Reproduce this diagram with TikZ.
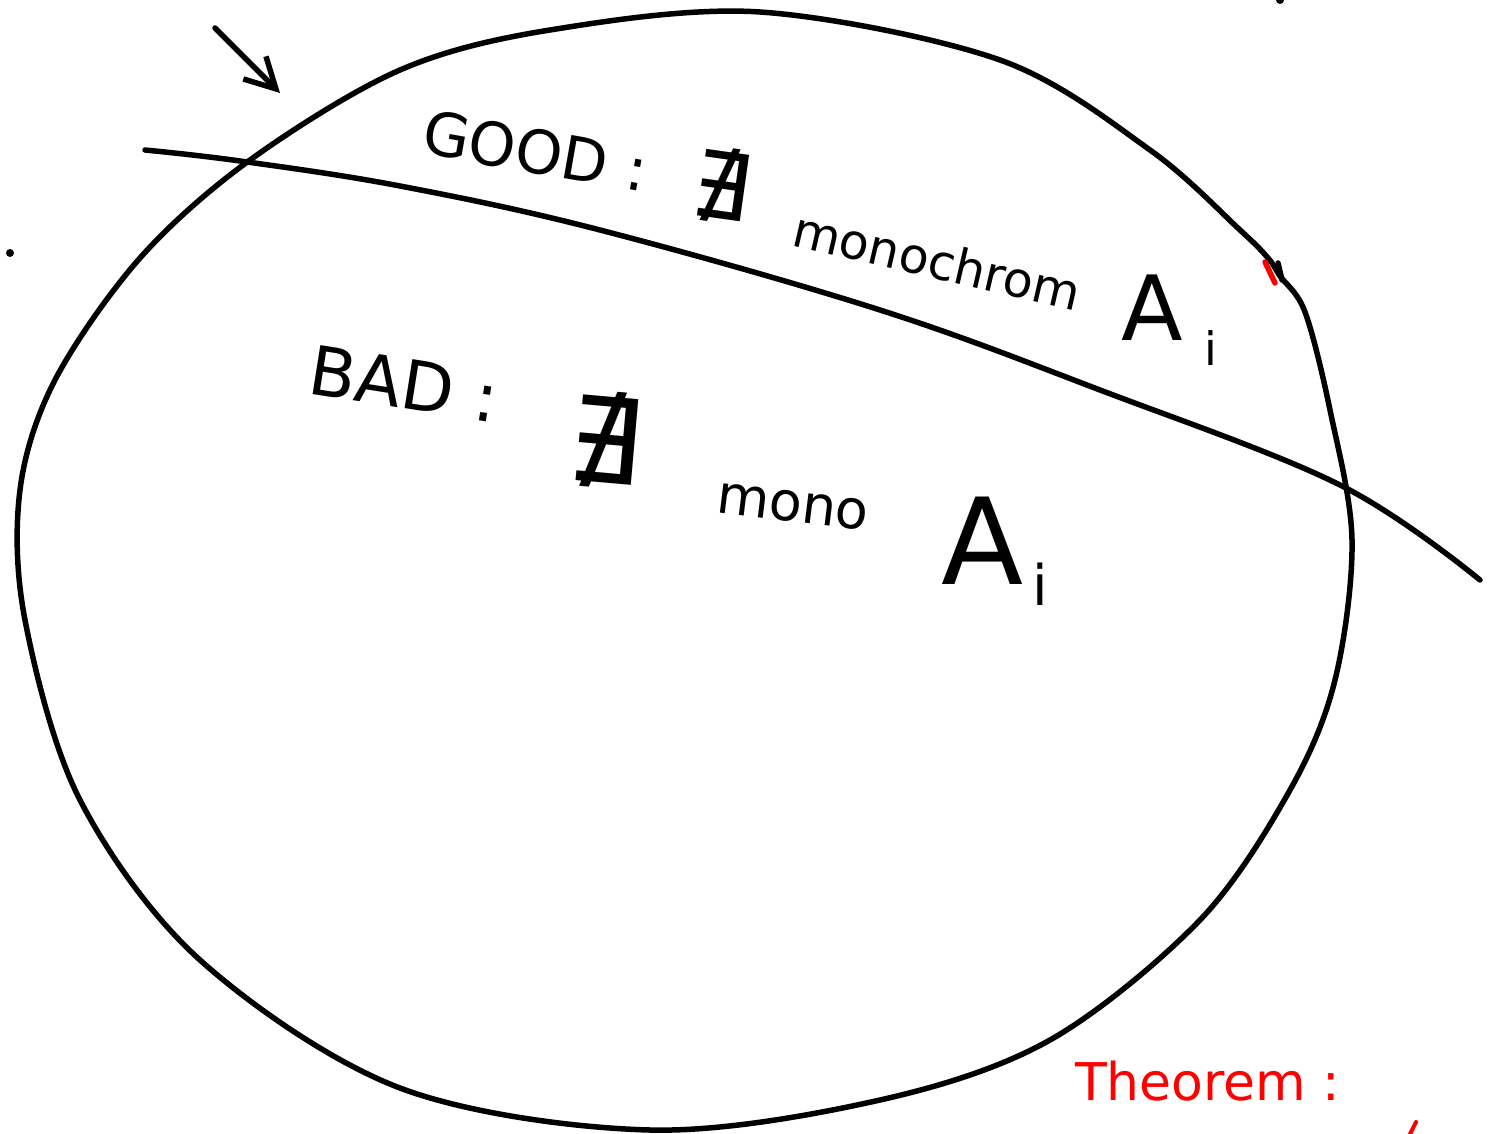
\documentclass[tikz,border=0pt]{standalone}
\usepackage{fontspec}
\setmainfont{DejaVu Sans}
\usetikzlibrary{arrows.meta}
\tikzset{
  ink/.style={line width=5.5pt, line cap=round, line join=round, black},
  redink/.style={line width=5.5pt, line cap=round, line join=round, red},
  hand/.style={inner sep=0pt, outer sep=0pt, text=black},
}
\newcommand{\fs}[1]{\fontsize{#1}{#1}\selectfont}
\begin{document}
\begin{tikzpicture}[x=1pt,y=-1pt]
\useasboundingbox (0,0) rectangle (1490,1134);
% big closed curve
\draw[ink] plot[smooth cycle, tension=0.55] coordinates {
  (760,12) (1000,60) (1150,150) (1240,230) (1268,258) (1280,276) (1305,312)
  (1330,410) (1352,540) (1335,680) (1290,790) (1200,920) (1050,1040)
  (880,1100) (650,1130) (400,1088) (200,960) (80,800) (25,620) (20,490)
  (55,380) (140,258) (250,160) (400,70) (550,30)};
% small jag strokes at right
\draw[ink] (1278,263) -- (1282,280);
\draw[redink] (1265,262) -- (1275,283);
% dividing curve
\coordinate (c0) at (145,150);
\coordinate (c1) at (1480,580);
\draw[ink] plot[smooth, tension=0.6] coordinates {
  (c0) (240,161) (400,186) (600,230) (880,310) (1100,390) (1340,485) (c1)};
% arrow
\coordinate (a0) at (215,28);
\coordinate (a1) at (280,93);
\draw[ink, -{Straight Barb[length=30pt, width=32pt, line width=5.5pt]}] (a0) -- (a1);
% dots
\fill (10,253) circle (4);
\fill (1280,0) circle (4);
\draw[redink, line width=4pt] (1416,1122) -- (1410,1134);
% GOOD row
\node[hand, anchor=base west, rotate=-10] (good) at (420,153) {\fs{60}GOOD :};
\node[hand, rotate=-8] (ng) at (722,185) {\fs{92}∄};
\node[hand, anchor=base west, rotate=-13] (mchrom) at (790,245) {\fs{49}monochrom};
\node[hand, anchor=base] (ga) at (1152,340) {\fs{90}A};
\node[hand, anchor=base] (gi) at (1211,365) {\fs{46}i};
% BAD row
\node[hand, anchor=base west, rotate=-9] (bad) at (306,393) {\fs{68}BAD :};
\node[hand, rotate=-5] (nb) at (605,440) {\fs{118}∄};
\node[hand, anchor=base west, rotate=-7] (mono) at (715,512) {\fs{54}mono};
\node[hand, anchor=base] (ba) at (983,584) {\fs{120}A};
\node[hand, anchor=base] (bi) at (1040,605) {\fs{56}i};
% Theorem
\node[hand, text=red, anchor=base west] (thm) at (1075,1100) {\fs{52}Theorem :};
\end{tikzpicture}
\end{document}
